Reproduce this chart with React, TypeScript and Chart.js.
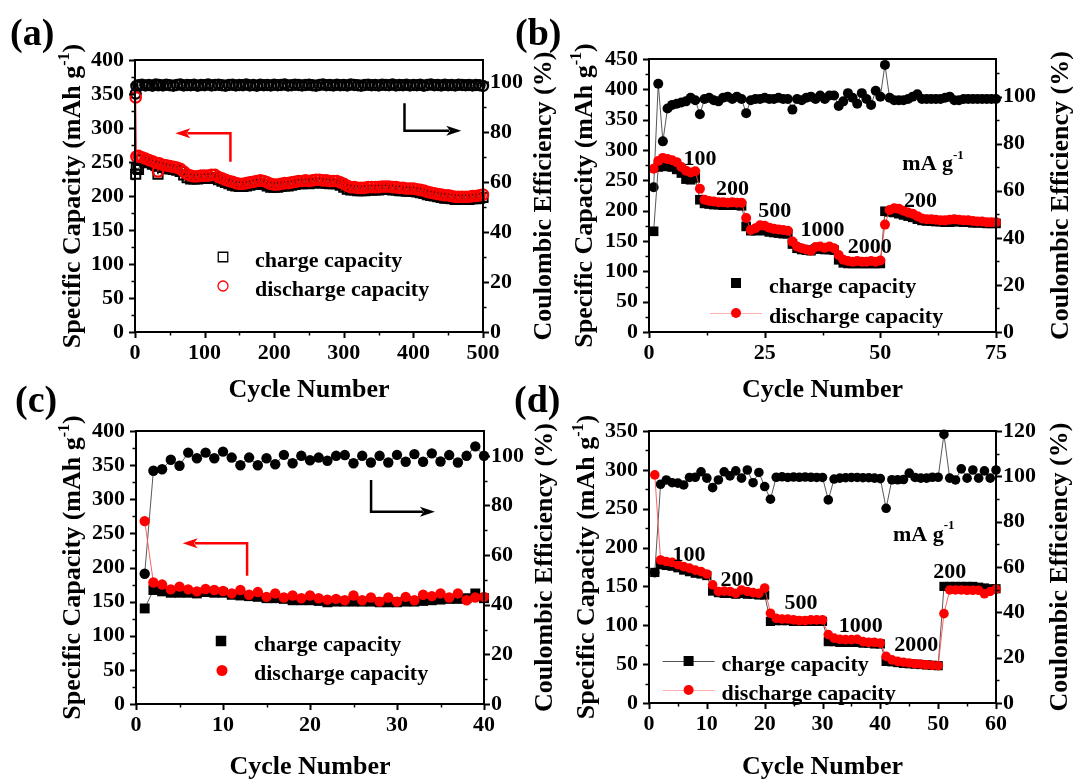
import React, { useEffect, useRef } from "react";
import { Chart, registerables } from "chart.js";
Chart.register(...registerables);

const FONT = '"Liberation Serif", "Times New Roman", Times, serif';
const W = 1073;
const H = 781;

// ---------------- Panel (a) data ----------------
const A_CYCLES = [1, 2, 5, 10, 15, 20, 25, 30, 33, 35,
  40, 45, 50, 55, 60, 65, 70, 75, 80, 85,
  90, 95, 100, 105, 110, 115, 120, 125, 130, 135,
  140, 145, 150, 155, 160, 165, 170, 175, 180, 185,
  190, 195, 200, 205, 210, 215, 220, 225, 230, 235,
  240, 245, 250, 255, 260, 265, 270, 275, 280, 285,
  290, 295, 300, 305, 310, 315, 320, 325, 330, 335,
  340, 345, 350, 355, 360, 365, 370, 375, 380, 385,
  390, 395, 400, 405, 410, 415, 420, 425, 430, 435,
  440, 445, 450, 455, 460, 465, 470, 475, 480, 485,
  490, 495, 500];
const A_DISCHARGE = [345, 258, 259, 257, 255, 253, 251, 249, 236, 248,
  246, 245, 244, 243, 242, 240, 236, 232, 230, 229,
  229, 230, 230, 230, 231, 231, 228, 226, 224, 222,
  221, 219, 218, 218, 219, 220, 221, 222, 223, 222,
  220, 218, 217, 217, 218, 219, 219, 220, 221, 222,
  222, 223, 222, 223, 224, 224, 223, 223, 222, 222,
  222, 220, 218, 215, 213, 213, 212, 212, 212, 213,
  213, 213, 213, 214, 214, 214, 213, 213, 212, 212,
  211, 211, 211, 210, 209, 208, 206, 205, 204, 203,
  202, 201, 201, 200, 199, 199, 199, 199, 199, 200,
  200, 201, 202];
const A_CHARGE = [232, 241, 239, 253, 251, 249, 247, 245, 232, 244,
  242, 241, 240, 239, 238, 236, 231, 227, 225, 225,
  225, 226, 226, 226, 227, 227, 224, 222, 220, 218,
  216, 215, 214, 214, 215, 216, 217, 218, 219, 217,
  215, 213, 213, 213, 214, 215, 215, 216, 217, 218,
  218, 219, 218, 219, 220, 220, 219, 219, 218, 218,
  218, 216, 213, 210, 209, 209, 208, 208, 208, 209,
  209, 209, 209, 210, 210, 210, 209, 209, 208, 208,
  207, 207, 207, 206, 205, 204, 202, 201, 200, 199,
  198, 197, 197, 196, 195, 195, 195, 195, 195, 196,
  196, 197, 198];
const A_CE = [95.5, 98.6, 98.9, 99.1, 98.8, 99.0, 98.7, 99.2, 98.9, 99.0,
  98.8, 99.1, 98.9, 98.7, 99.0, 99.2, 98.8, 99.0, 98.9, 99.1,
  98.7, 99.0, 98.9, 99.2, 98.8, 99.0, 99.1, 98.9, 98.7, 99.0,
  99.1, 98.8, 99.0, 98.9, 99.2, 98.8, 99.0, 98.7, 99.1, 98.9,
  99.0, 98.8, 99.1, 98.9, 99.0, 99.2, 98.8, 98.9, 99.1, 99.0,
  98.8, 99.0, 99.1, 98.9, 98.7, 99.0, 99.2, 98.9, 99.0, 98.8,
  99.1, 98.9, 99.0, 98.8, 99.2, 99.0, 98.9, 98.7, 99.0, 99.1,
  98.9, 99.0, 98.8, 99.1, 99.0, 98.9, 99.2, 98.8, 99.0, 98.9,
  99.1, 98.8, 99.0, 98.9, 99.1, 98.7, 99.0, 99.2, 98.9, 99.0,
  98.8, 99.1, 98.9, 99.0, 98.8, 99.1, 99.0, 98.9, 99.0, 98.8,
  99.0, 98.9, 98.6];
const A_XTICKS = [0, 100, 200, 300, 400, 500];
const A_YTICKS = [0, 50, 100, 150, 200, 250, 300, 350, 400];
const A_Y1TICKS = [0, 20, 40, 60, 80, 100];

// ---------------- Panel (b) data ----------------
const B_CYCLES = [1, 2, 3, 4, 5, 6, 7, 8, 9, 10, 11, 12, 13, 14, 15, 16, 17, 18, 19, 20,
  21, 22, 23, 24, 25, 26, 27, 28, 29, 30, 31, 32, 33, 34, 35, 36, 37, 38, 39, 40,
  41, 42, 43, 44, 45, 46, 47, 48, 49, 50, 51, 52, 53, 54, 55, 56, 57, 58, 59, 60,
  61, 62, 63, 64, 65, 66, 67, 68, 69, 70, 71, 72, 73, 74, 75];
const B_DISCHARGE = [269, 282, 287, 285, 283, 280, 272, 266, 263, 265,
  236, 218, 216, 215, 214, 214, 213, 214, 213, 213,
  188, 168, 171, 176, 175, 172, 170, 169, 168, 167,
  149, 141, 138, 136, 134, 140, 141, 139, 141, 138,
  127, 119, 117, 116, 117, 116, 116, 117, 116, 118,
  177, 201, 204, 203, 200, 197, 195, 191, 187, 186,
  186, 185, 184, 184, 185, 186, 185, 184, 184, 183,
  182, 182, 181, 181, 181];
const B_CHARGE = [166, 272, 276, 273, 272, 268, 262, 252, 251, 254,
  218, 212, 211, 210, 210, 209, 209, 209, 209, 208,
  174, 167, 167, 168, 167, 165, 164, 163, 162, 162,
  145, 138, 136, 135, 134, 137, 137, 136, 136, 135,
  119, 114, 113, 113, 113, 113, 113, 113, 113, 113,
  199, 198, 197, 195, 193, 191, 189, 186, 184, 183,
  183, 182, 182, 181, 181, 182, 182, 181, 181, 180,
  180, 180, 179, 179, 179];
const B_CE = [61.5, 105.5, 81, 95, 96.5, 97, 97.5, 98, 99.5, 98.5,
  92.5, 99, 99.5, 98.5, 98, 99.5, 100, 99, 100, 99,
  93, 98.5, 99, 99, 99.5, 99, 99, 99.5, 99, 99,
  94.5, 99, 98.5, 99.5, 100, 99, 100.5, 99, 100.5, 100.5,
  96, 98, 101.5, 99.5, 97, 101.5, 99, 96.5, 102.5, 100,
  113.5, 99.5, 98.5, 98.5, 98.5, 99, 100, 101, 99, 99,
  99, 99, 99, 99.5, 100, 98.5, 98.5, 99, 99, 99,
  99, 99, 99, 99, 99];
const B_XTICKS = [0, 25, 50, 75];
const B_YTICKS = [0, 50, 100, 150, 200, 250, 300, 350, 400, 450];
const B_Y1TICKS = [0, 20, 40, 60, 80, 100];

// ---------------- Panel (c) data ----------------
const C_CYCLES = [1, 2, 3, 4, 5, 6, 7, 8, 9, 10, 11, 12, 13, 14, 15, 16, 17, 18, 19, 20,
  21, 22, 23, 24, 25, 26, 27, 28, 29, 30, 31, 32, 33, 34, 35, 36, 37, 38, 39, 40];
const C_DISCHARGE = [268, 178, 175, 168, 172, 168, 165, 168.5, 167, 165.5,
  162, 167, 160, 164, 157, 162, 156, 159, 155, 159,
  155, 153, 154, 152, 159, 152, 156, 150, 156, 150,
  157, 152, 160, 158, 162, 156, 162, 152, 156, 157];
const C_CHARGE = [140, 167, 165, 163, 163, 163, 162, 164, 163, 163,
  160, 159, 158, 157, 155, 155, 154, 152, 152, 152,
  151, 149, 150, 150, 150, 150, 150, 149, 149, 149,
  150, 150, 151, 152, 153, 154, 154, 155, 162, 155];
const C_CE = [52.5, 94, 94.6, 98.4, 96, 101.3, 99, 101.3, 99, 101.7,
  99.3, 96.2, 99.3, 96.2, 99, 96.6, 100.4, 97, 100, 98.2,
  99.3, 98, 100, 100.3, 97, 100, 97.3, 100, 97.3, 100.4,
  97.6, 100.7, 97.6, 101, 97.7, 100.3, 97.3, 100, 103.8, 100];
const C_XTICKS = [0, 10, 20, 30, 40];
const C_YTICKS = [0, 50, 100, 150, 200, 250, 300, 350, 400];
const C_Y1TICKS = [0, 20, 40, 60, 80, 100];

// ---------------- Panel (d) data ----------------
const D_CYCLES = [1, 2, 3, 4, 5, 6, 7, 8, 9, 10, 11, 12, 13, 14, 15, 16, 17, 18, 19, 20,
  21, 22, 23, 24, 25, 26, 27, 28, 29, 30, 31, 32, 33, 34, 35, 36, 37, 38, 39, 40,
  41, 42, 43, 44, 45, 46, 47, 48, 49, 50, 51, 52, 53, 54, 55, 56, 57, 58, 59, 60];
const D_DISCHARGE = [293.5, 184, 182, 181, 178, 175.5, 173.5, 171, 169, 166,
  152, 143.5, 144, 143.5, 141, 145.5, 143.5, 142, 141, 148,
  115.5, 109, 108, 108, 107, 106, 106, 107, 107, 107,
  88, 83.5, 82, 81.5, 81.5, 82, 79, 78, 78, 77,
  60, 55.5, 53.5, 52.5, 51.5, 50.5, 50, 49, 48.5, 48,
  115, 145.5, 145.5, 145.5, 145, 145, 145, 140.5, 143.5, 146.5];
const D_CHARGE = [168, 178, 177, 176, 174, 171, 169, 167, 166, 164,
  144, 142, 141, 141, 140, 141, 140, 140, 139, 139,
  105, 106, 106, 106, 105, 105, 105, 105, 105, 105,
  79, 79, 78, 78, 78, 78, 77, 77, 76, 76,
  53.5, 53, 52, 51, 50.5, 50, 49.5, 49, 48.5, 48,
  150, 150, 150, 150, 150, 150, 149, 148, 147, 147];
const D_CE = [57.5, 96.5, 98.4, 97.2, 97, 96.2, 99.5, 99.6, 102, 99.2,
  95, 98.4, 102, 100.2, 102.4, 99.2, 102.8, 97.2, 101.7, 95.5,
  89.9, 99.6, 99.8, 99.5, 99.7, 99.6, 99.7, 99.6, 99.5, 99.5,
  89.6, 98.8, 99.2, 99.4, 99.5, 99.5, 99.4, 99.4, 99.2, 99,
  85.9, 98.5, 98.5, 98.6, 101.4, 99.5, 99.2, 99.2, 99.6, 99.6,
  118.5, 99.2, 98.4, 103.3, 99.2, 102.8, 99.2, 102.4, 99.2, 102.8];
const D_XTICKS = [0, 10, 20, 30, 40, 50, 60];
const D_YTICKS = [0, 50, 100, 150, 200, 250, 300, 350];
const D_Y1TICKS = [0, 20, 40, 60, 80, 100, 120];

const RATE_LABELS_B = ["100", "200", "500", "1000", "2000", "200"];
const RATE_LABELS_D = ["100", "200", "500", "1000", "2000", "200"];

// ---------------- types ----------------
type Pt = [number, number];
interface AxisDef { min: number; max: number; ticks: number[]; minor: number }
interface SeriesDef {
  x: number[]; y: number[]; color: string; lineColor: string;
  shape: "rect" | "circle"; filled: boolean; radius: number; axis: "y" | "y1"; order: number; pbw?: number;
}
interface LegendItem { label: string; color: string; lineColor: string; shape: "rect" | "circle"; filled: boolean; size: number; line: boolean; x: number; y: number; textX: number }
interface Note { parts: Part[]; x: number; y: number }
interface Arrow { color: string; path: Pt[] }
interface PanelDef {
  area: { l: number; r: number; t: number; b: number };
  x: AxisDef; y: AxisDef; y1: AxisDef;
  series: SeriesDef[];
  label: { text: string; x: number; y: number };
  leftTitleX: number; rightTitleX: number; bottomTitleY: number;
  legend: LegendItem[];
  notes: Note[];
  arrows: Arrow[];
}
type Part = { t: string; sup?: boolean };

const RED = "#ff0000";
const BLACK = "#000000";

function rich(ctx: CanvasRenderingContext2D, parts: Part[], x: number, y: number, size: number, rot: number, align: "left" | "center", baseline: CanvasTextBaseline) {
  ctx.save();
  ctx.translate(x, y);
  if (rot) ctx.rotate(rot);
  ctx.textBaseline = baseline;
  ctx.textAlign = "left";
  ctx.fillStyle = "#000";
  const supSize = Math.round(size * 0.6);
  const fonts = parts.map((p) => `bold ${p.sup ? supSize : size}px ${FONT}`);
  const widths = parts.map((p, i) => { ctx.font = fonts[i]; return ctx.measureText(p.t).width; });
  const total = widths.reduce((s, w) => s + w, 0);
  let cx = align === "center" ? -total / 2 : 0;
  parts.forEach((p, i) => {
    ctx.font = fonts[i];
    ctx.fillText(p.t, cx, p.sup ? -size * 0.42 : 0);
    cx += widths[i];
  });
  ctx.restore();
}

function drawMarker(ctx: CanvasRenderingContext2D, shape: "rect" | "circle", filled: boolean, color: string, x: number, y: number, size: number) {
  ctx.save();
  ctx.beginPath();
  if (shape === "rect") ctx.rect(x - size / 2, y - size / 2, size, size);
  else ctx.arc(x, y, size / 2, 0, Math.PI * 2);
  if (filled) { ctx.fillStyle = color; ctx.fill(); }
  else { ctx.strokeStyle = color; ctx.lineWidth = 1.3; ctx.stroke(); }
  ctx.restore();
}

function makePlugin(p: PanelDef) {
  return {
    id: "panelDecor",
    afterDraw(chart: any) {
      const ctx: CanvasRenderingContext2D = chart.ctx;
      const a = chart.chartArea;
      const sx = chart.scales.x, sy = chart.scales.y, sy1 = chart.scales.y1;
      ctx.save();
      ctx.strokeStyle = "#000";
      ctx.lineWidth = 2;
      ctx.strokeRect(a.left, a.top, a.right - a.left, a.bottom - a.top);

      const ticksFor = (scale: any, def: AxisDef, side: "bottom" | "left" | "right") => {
        const mk = (v: number, len: number, lw: number) => {
          const pos = Math.round(scale.getPixelForValue(v)) + 0.5;
          ctx.lineWidth = lw;
          ctx.beginPath();
          if (side === "bottom") { ctx.moveTo(pos, a.bottom); ctx.lineTo(pos, a.bottom + len); }
          else if (side === "left") { ctx.moveTo(a.left, pos); ctx.lineTo(a.left - len, pos); }
          else { ctx.moveTo(a.right, pos); ctx.lineTo(a.right + len, pos); }
          ctx.stroke();
        };
        def.ticks.forEach((v) => mk(v, 6, 2));
        const n = Math.round((def.max - def.min) / def.minor);
        for (let i = 1; i < n + 1; i++) {
          const v = def.min + i * def.minor;
          if (v >= def.max - 1e-6) continue;
          if (def.ticks.some((t) => Math.abs(t - v) < 1e-6)) continue;
          mk(v, 3.5, 1.5);
        }
      };
      ticksFor(sx, p.x, "bottom");
      ticksFor(sy, p.y, "left");
      ticksFor(sy1, p.y1, "right");

      // arrows
      p.arrows.forEach((ar) => {
        const pts = ar.path.map(([cx, cy]) => [sx.getPixelForValue(cx), sy.getPixelForValue(cy)]);
        ctx.strokeStyle = ar.color;
        ctx.fillStyle = ar.color;
        ctx.lineWidth = 2.5;
        const [tx, ty] = pts[pts.length - 1];
        const [px, py] = pts[pts.length - 2];
        const ang = Math.atan2(ty - py, tx - px);
        const headLen = 15, headW = 5;
        ctx.beginPath();
        ctx.moveTo(pts[0][0], pts[0][1]);
        for (let i = 1; i < pts.length - 1; i++) ctx.lineTo(pts[i][0], pts[i][1]);
        ctx.lineTo(tx - Math.cos(ang) * headLen * 0.8, ty - Math.sin(ang) * headLen * 0.8);
        ctx.stroke();
        ctx.beginPath();
        ctx.moveTo(tx, ty);
        ctx.lineTo(tx - Math.cos(ang) * headLen - Math.sin(ang) * headW, ty - Math.sin(ang) * headLen + Math.cos(ang) * headW);
        ctx.lineTo(tx - Math.cos(ang) * headLen * 0.75, ty - Math.sin(ang) * headLen * 0.75);
        ctx.lineTo(tx - Math.cos(ang) * headLen + Math.sin(ang) * headW, ty - Math.sin(ang) * headLen - Math.cos(ang) * headW);
        ctx.closePath();
        ctx.fill();
      });

      // notes
      p.notes.forEach((n) => {
        rich(ctx, n.parts, sx.getPixelForValue(n.x), sy.getPixelForValue(n.y), 22, 0, "center", "middle");
      });

      // legend
      p.legend.forEach((it) => {
        if (it.line) {
          ctx.strokeStyle = it.lineColor;
          ctx.lineWidth = 1;
          ctx.beginPath();
          ctx.moveTo(it.x - 26, it.y + 0.5);
          ctx.lineTo(it.x + 26, it.y + 0.5);
          ctx.stroke();
        }
        drawMarker(ctx, it.shape, it.filled, it.color, it.x, it.y, it.size);
        rich(ctx, [{ t: it.label }], it.textX, it.y + 9.5, 22, 0, "left", "alphabetic");
      });

      // titles
      const cy = (a.top + a.bottom) / 2;
      const cx = (a.left + a.right) / 2;
      rich(ctx, [{ t: "Specific Capacity (mAh g" }, { t: "-1", sup: true }, { t: ")" }], p.leftTitleX, cy, 26, -Math.PI / 2, "center", "alphabetic");
      rich(ctx, [{ t: "Coulombic Efficiency (%)" }], p.rightTitleX, cy, 26, -Math.PI / 2, "center", "alphabetic");
      rich(ctx, [{ t: "Cycle Number" }], cx, p.bottomTitleY, 26, 0, "center", "alphabetic");
      rich(ctx, [{ t: p.label.text }], p.label.x, p.label.y, 38, 0, "left", "alphabetic");
      ctx.restore();
    },
  };
}

function buildConfig(p: PanelDef): any {
  const tickFont = { family: FONT, size: 22, weight: "bold" as const };
  const axis = (d: AxisDef, extra: any) => ({
    type: "linear",
    min: d.min,
    max: d.max,
    afterBuildTicks: (s: any) => { s.ticks = d.ticks.map((v) => ({ value: v })); },
    grid: { display: false, drawTicks: false },
    border: { display: false },
    title: { display: false },
    ...extra,
  });
  return {
    type: "line",
    data: {
      datasets: p.series.map((s) => ({
        data: s.x.map((x, i) => ({ x, y: s.y[i] })),
        yAxisID: s.axis,
        xAxisID: "x",
        borderColor: s.lineColor,
        borderWidth: 0.9,
        backgroundColor: s.filled ? s.color : "rgba(0,0,0,0)",
        pointStyle: s.shape,
        pointRadius: s.radius,
        pointBorderWidth: s.filled ? 0 : (s.pbw ?? 1.3),
        pointBackgroundColor: s.filled ? s.color : "rgba(0,0,0,0)",
        pointBorderColor: s.color,
        showLine: true,
        fill: false,
        tension: 0,
        order: s.order,
        clip: false,
      })),
    },
    options: {
      animation: false,
      responsive: false,
      maintainAspectRatio: false,
      devicePixelRatio: 1,
      events: [],
      layout: { padding: { left: 0, right: 0, top: p.area.t, bottom: 0 } },
      plugins: { legend: { display: false }, tooltip: { enabled: false }, title: { display: false } },
      scales: {
        x: axis(p.x, {
          position: "bottom",
          afterFit: (s: any) => { s.height = H - p.area.b; },
          ticks: { font: tickFont, color: "#000", padding: 8, autoSkip: false, maxRotation: 0, minRotation: 0 },
        }),
        y: axis(p.y, {
          position: "left",
          afterFit: (s: any) => { s.width = p.area.l; },
          ticks: { font: tickFont, color: "#000", padding: 11, autoSkip: false },
        }),
        y1: axis(p.y1, {
          position: "right",
          afterFit: (s: any) => { s.width = W - p.area.r; },
          ticks: { font: tickFont, color: "#000", padding: 7, autoSkip: false },
        }),
      },
    },
    plugins: [makePlugin(p)],
  };
}

const PANELS: PanelDef[] = [
  {
    area: { l: 135, r: 483, t: 60, b: 332 },
    x: { min: 0, max: 500, ticks: A_XTICKS, minor: 50 },
    y: { min: 0, max: 400, ticks: A_YTICKS, minor: 25 },
    y1: { min: 0, max: 109, ticks: A_Y1TICKS, minor: 10 },
    series: [
      { x: A_CYCLES, y: A_DISCHARGE, color: RED, lineColor: RED, shape: "circle", filled: false, radius: 5.2, axis: "y", order: 0, pbw: 2.2 },
      { x: A_CYCLES, y: A_CHARGE, color: BLACK, lineColor: BLACK, shape: "rect", filled: false, radius: 6.5, axis: "y", order: 1, pbw: 2 },
      { x: A_CYCLES, y: A_CE, color: BLACK, lineColor: BLACK, shape: "circle", filled: false, radius: 5, axis: "y1", order: 2, pbw: 2.4 },
    ],
    label: { text: "(a)", x: 10, y: 45 },
    leftTitleX: 80, rightTitleX: 551, bottomTitleY: 397,
    legend: [
      { label: "charge capacity", color: BLACK, lineColor: BLACK, shape: "rect", filled: false, size: 9.5, line: false, x: 223, y: 257, textX: 255 },
      { label: "discharge capacity", color: RED, lineColor: RED, shape: "circle", filled: false, size: 10, line: false, x: 223, y: 286, textX: 255 },
    ],
    notes: [],
    arrows: [
      { color: RED, path: [[137.1, 250.4], [137.1, 292.2], [57.9, 292.2]] },
      { color: BLACK, path: [[387.2, 336.3], [387.2, 296], [468.8, 296]] },
    ],
  },
  {
    area: { l: 649, r: 996, t: 59, b: 332 },
    x: { min: 0, max: 75, ticks: B_XTICKS, minor: 12.5 },
    y: { min: 0, max: 450, ticks: B_YTICKS, minor: 25 },
    y1: { min: 0, max: 116, ticks: B_Y1TICKS, minor: 10 },
    series: [
      { x: B_CYCLES, y: B_DISCHARGE, color: RED, lineColor: "#ff5050", shape: "circle", filled: true, radius: 5, axis: "y", order: 0 },
      { x: B_CYCLES, y: B_CHARGE, color: BLACK, lineColor: "#444", shape: "rect", filled: true, radius: 6.8, axis: "y", order: 1 },
      { x: B_CYCLES, y: B_CE, color: BLACK, lineColor: "#444", shape: "circle", filled: true, radius: 5, axis: "y1", order: 2 },
    ],
    label: { text: "(b)", x: 515, y: 45 },
    leftTitleX: 592, rightTitleX: 1068, bottomTitleY: 397,
    legend: [
      { label: "charge capacity", color: BLACK, lineColor: BLACK, shape: "rect", filled: true, size: 10, line: false, x: 736, y: 283, textX: 769 },
      { label: "discharge capacity", color: RED, lineColor: "#ffb0b0", shape: "circle", filled: true, size: 10, line: true, x: 736, y: 313, textX: 769 },
    ],
    notes: [
      { parts: [{ t: RATE_LABELS_B[0] }], x: 11.0, y: 285 },
      { parts: [{ t: RATE_LABELS_B[1] }], x: 18.05, y: 235 },
      { parts: [{ t: RATE_LABELS_B[2] }], x: 27.2, y: 199.5 },
      { parts: [{ t: RATE_LABELS_B[3] }], x: 37.5, y: 168 },
      { parts: [{ t: RATE_LABELS_B[4] }], x: 47.7, y: 140 },
      { parts: [{ t: RATE_LABELS_B[5] }], x: 58.7, y: 216 },
      { parts: [{ t: "mA g" }, { t: "-1", sup: true }], x: 61.4, y: 276 },
    ],
    arrows: [],
  },
  {
    area: { l: 136, r: 484, t: 431, b: 704 },
    x: { min: 0, max: 40, ticks: C_XTICKS, minor: 5 },
    y: { min: 0, max: 400, ticks: C_YTICKS, minor: 25 },
    y1: { min: 0, max: 110, ticks: C_Y1TICKS, minor: 10 },
    series: [
      { x: C_CYCLES, y: C_DISCHARGE, color: RED, lineColor: "#ff5050", shape: "circle", filled: true, radius: 5.2, axis: "y", order: 0 },
      { x: C_CYCLES, y: C_CHARGE, color: BLACK, lineColor: "#444", shape: "rect", filled: true, radius: 7, axis: "y", order: 1 },
      { x: C_CYCLES, y: C_CE, color: BLACK, lineColor: "#444", shape: "circle", filled: true, radius: 5.2, axis: "y1", order: 2 },
    ],
    label: { text: "(c)", x: 15, y: 412 },
    leftTitleX: 80, rightTitleX: 552, bottomTitleY: 774,
    legend: [
      { label: "charge capacity", color: BLACK, lineColor: BLACK, shape: "rect", filled: true, size: 10.5, line: false, x: 221, y: 641, textX: 254 },
      { label: "discharge capacity", color: RED, lineColor: RED, shape: "circle", filled: true, size: 11, line: false, x: 222, y: 670.5, textX: 254 },
    ],
    notes: [],
    arrows: [
      { color: BLACK, path: [[27.02, 328.2], [27.02, 281.8], [34.36, 281.8]] },
      { color: RED, path: [[12.77, 188], [12.77, 235.5], [5.36, 235.5]] },
    ],
  },
  {
    area: { l: 649, r: 996, t: 431, b: 703 },
    x: { min: 0, max: 60, ticks: D_XTICKS, minor: 5 },
    y: { min: 0, max: 350, ticks: D_YTICKS, minor: 25 },
    y1: { min: 0, max: 120, ticks: D_Y1TICKS, minor: 10 },
    series: [
      { x: D_CYCLES, y: D_DISCHARGE, color: RED, lineColor: "#ff5050", shape: "circle", filled: true, radius: 4.8, axis: "y", order: 0 },
      { x: D_CYCLES, y: D_CHARGE, color: BLACK, lineColor: "#444", shape: "rect", filled: true, radius: 6.5, axis: "y", order: 1 },
      { x: D_CYCLES, y: D_CE, color: BLACK, lineColor: "#444", shape: "circle", filled: true, radius: 4.8, axis: "y1", order: 2 },
    ],
    label: { text: "(d)", x: 514, y: 412 },
    leftTitleX: 594, rightTitleX: 1067, bottomTitleY: 774,
    legend: [
      { label: "charge capacity", color: BLACK, lineColor: "#555", shape: "rect", filled: true, size: 10, line: true, x: 688.6, y: 661, textX: 721.5 },
      { label: "discharge capacity", color: RED, lineColor: "#ffb0b0", shape: "circle", filled: true, size: 10, line: true, x: 688.6, y: 690, textX: 721.5 },
    ],
    notes: [
      { parts: [{ t: RATE_LABELS_D[0] }], x: 6.92, y: 190.4 },
      { parts: [{ t: RATE_LABELS_D[1] }], x: 15.2, y: 158.3 },
      { parts: [{ t: RATE_LABELS_D[2] }], x: 26.3, y: 127.7 },
      { parts: [{ t: RATE_LABELS_D[3] }], x: 36.6, y: 98.4 },
      { parts: [{ t: RATE_LABELS_D[4] }], x: 46.2, y: 74.6 },
      { parts: [{ t: RATE_LABELS_D[5] }], x: 52.0, y: 167.9 },
      { parts: [{ t: "mA g" }, { t: "-1", sup: true }], x: 47.5, y: 216 },
    ],
    arrows: [],
  },
];

function Panel({ def }: { def: PanelDef }) {
  const ref = useRef<HTMLCanvasElement>(null);
  useEffect(() => {
    if (!ref.current) return;
    const chart = new Chart(ref.current, buildConfig(def));
    return () => chart.destroy();
  }, [def]);
  return (
    <canvas
      ref={ref}
      width={W}
      height={H}
      style={{ position: "absolute", left: 0, top: 0, width: W, height: H }}
    />
  );
}

export default function App() {
  return (
    <div style={{ position: "absolute", left: 0, top: 0, width: W, height: H, background: "#fff", overflow: "hidden" }}>
      {PANELS.map((p, i) => (
        <Panel key={i} def={p} />
      ))}
    </div>
  );
}
